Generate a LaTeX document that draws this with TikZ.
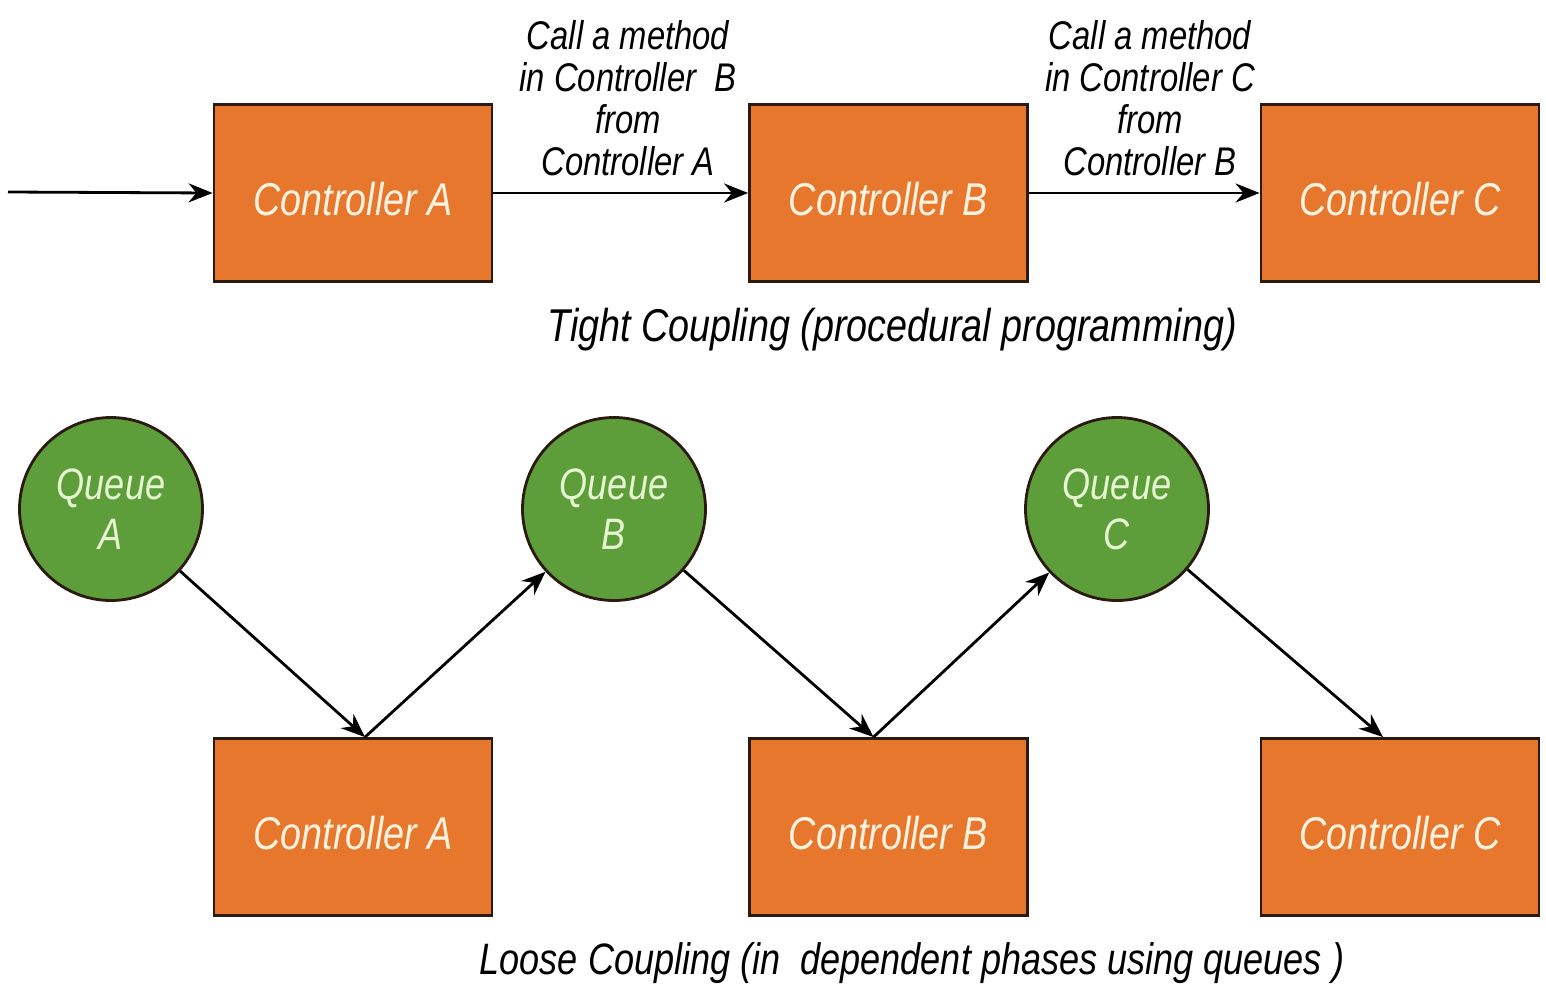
\documentclass[tikz,border=0pt]{standalone}
\usepackage{fontspec}
\setmainfont{Liberation Sans}[FakeStretch=0.82]
\usetikzlibrary{arrows.meta}
\definecolor{boxorange}{HTML}{E8772E}
\definecolor{queuegreen}{HTML}{5E9E3A}
\definecolor{boxtext}{HTML}{FFF3E0}
\definecolor{queuetext}{HTML}{E6F5D2}
\definecolor{edge}{HTML}{2A1A10}
\tikzset{
  ctrl/.style={draw=edge, line width=2.8pt, fill=boxorange, minimum width=278pt, minimum height=177pt,
    inner sep=0pt, text=boxtext, text height=44pt, text depth=0pt, font=\itshape\fontsize{46}{50}\selectfont},
  queue/.style={circle, draw=edge, line width=2.8pt, fill=queuegreen, minimum size=183pt, inner sep=0pt,
    text=queuetext, align=center, font=\itshape\fontsize{44}{50}\selectfont},
  conn/.style={line width=2.8pt, -{Stealth[length=24pt,width=19pt]}},
  lbl/.style={align=center, font=\itshape\fontsize{40}{42}\selectfont},
  captext/.style={font=\itshape\fontsize{46}{50}\selectfont}
}
\begin{document}
\begin{tikzpicture}[x=1pt,y=-1pt]
\useasboundingbox (0,0) rectangle (1546,988);
% top row
\node[ctrl] (tA) at (353,193) {Controller A};
\node[ctrl] (tB) at (888.5,193) {Controller B};
\node[ctrl] (tC) at (1400,193) {Controller C};
\coordinate (in) at (8,192);
\draw[conn] (in) -- (tA.west);
\draw[conn] (tA.east) -- (tB.west);
\draw[conn] (tB.east) -- (tC.west);
\node[lbl] (l1) at (628,98) {Call a method\\in Controller\ \ B\\from\\Controller A};
\node[lbl] (l2) at (1150,98) {Call a method\\in Controller C\\from\\Controller B};
\node[captext] (cap1) at (892,330) {Tight Coupling (procedural programming)};
% bottom row
\node[queue] (qA) at (111,509) {Queue\\A};
\node[queue] (qB) at (614,509) {Queue\\B};
\node[queue] (qC) at (1117,509) {Queue\\C};
\node[ctrl] (bA) at (353,827) {Controller A};
\node[ctrl] (bB) at (888.5,827) {Controller B};
\node[ctrl] (bC) at (1400,827) {Controller C};
\coordinate (pA) at ([xshift=12pt]bA.north);
\coordinate (pB) at ([xshift=-15pt]bB.north);
\coordinate (pC) at ([xshift=-17pt]bC.north);
\draw[conn] (qA) -- (pA);
\draw[conn] (pA) -- (qB);
\draw[conn] (qB) -- (pB);
\draw[conn] (pB) -- (qC);
\draw[conn] (qC) -- (pC);
\node[captext, font=\itshape\fontsize{44}{50}\selectfont] (cap2) at (912,963) {Loose Coupling (in\ \ dependent phases using queues )};
\end{tikzpicture}
\end{document}
